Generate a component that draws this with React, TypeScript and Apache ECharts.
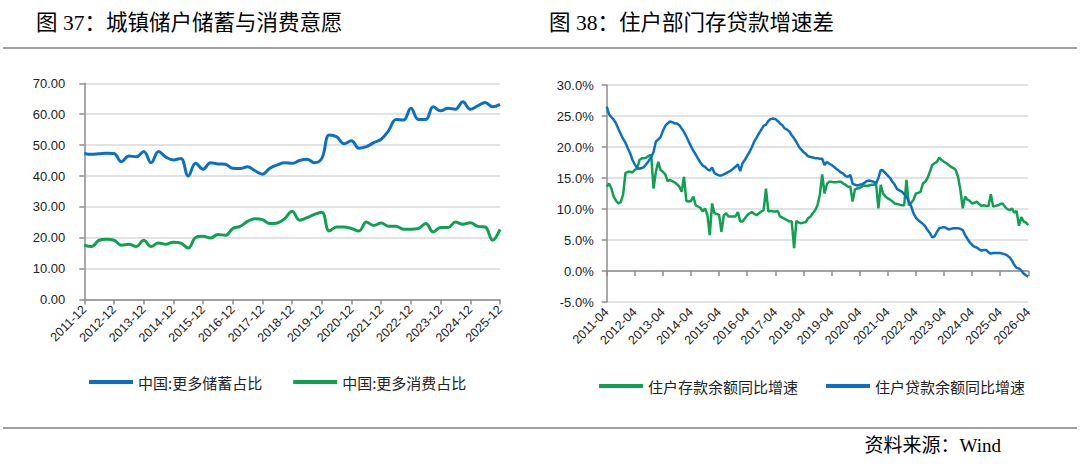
import React, { useEffect, useRef } from "react";
import * as echarts from "echarts";

function makeLabels(y0: number, m0: number, count: number, step: number): string[] {
  const out: string[] = [];
  let y = y0;
  let m = m0;
  for (let i = 0; i < count; i++) {
    out.push(`${y}-${String(m).padStart(2, "0")}`);
    m += step;
    while (m > 12) {
      m -= 12;
      y++;
    }
  }
  return out;
}

// ---- Chart 37 (quarterly, 2011-12 .. 2025-12) ----
const leftCategories = makeLabels(2011, 12, 57, 3);
const leftSaving = [
  47.3, 47.0, 47.2, 47.4, 47.3, 44.6, 46.5, 46.2, 47.9, 44.3,
  47.9, 46.1, 45.2, 45.7, 40.0, 44.1, 42.2, 44.3, 43.9, 43.8,
  42.5, 42.4, 43.0, 41.7, 40.6, 42.5, 43.6, 44.3, 44.1, 45.0,
  45.4, 44.3, 45.7, 53.3, 52.7, 50.4, 51.4, 49.0, 49.5, 50.8,
  51.9, 54.7, 58.3, 58.1, 61.9, 58.3, 58.3, 62.4, 61.1, 61.9,
  61.6, 64.0, 61.6, 62.7, 63.8, 62.4, 63.2,
];
const leftConsume = [
  17.6, 17.2, 19.2, 19.5, 19.2, 17.6, 17.9, 17.2, 19.2, 17.2,
  18.3, 17.9, 18.6, 18.3, 16.7, 20.1, 20.5, 19.9, 21.1, 20.8,
  23.0, 23.7, 25.3, 26.2, 25.9, 24.6, 24.8, 26.2, 28.6, 25.7,
  26.5, 27.6, 28.3, 22.2, 23.5, 23.5, 23.0, 22.2, 25.1, 24.0,
  24.8, 23.7, 23.7, 22.8, 22.8, 23.0, 24.6, 21.9, 23.3, 23.3,
  25.1, 24.4, 24.9, 23.7, 23.5, 19.2, 22.7,
];
const leftYTicks = { min: 0, max: 70, interval: 10 };

// ---- Chart 38 (monthly, 2011-04 .. 2026-04) ----
const rightCategories = makeLabels(2011, 4, 181, 1);
const depositGrowth = [
  13.6, 14.1, 13.3, 12.0, 11.3, 10.9, 11.1, 12.3, 15.8, 16.0,
  16.0, 15.9, 16.3, 16.5, 17.9, 18.2, 18.2, 18.3, 18.6, 18.7,
  13.3, 16.0, 17.6, 16.3, 16.0, 15.6, 14.5, 14.7, 14.5, 14.3,
  14.0, 13.6, 12.8, 15.2, 11.3, 11.2, 11.3, 12.0, 10.6, 10.4,
  10.2, 9.6, 10.1, 9.0, 5.8, 10.9, 9.3, 9.2, 9.0, 6.3,
  9.0, 9.3, 8.8, 8.8, 8.8, 8.8, 9.5, 8.0, 8.0, 8.5,
  9.0, 9.3, 9.5, 9.2, 9.0, 9.3, 9.6, 9.8, 13.3, 9.6,
  9.7, 9.6, 9.6, 9.7, 8.8, 8.6, 8.4, 8.2, 8.0, 8.0,
  3.7, 8.1, 7.8, 7.7, 7.8, 7.9, 8.5, 8.8, 9.3, 9.8,
  10.6, 12.3, 15.6, 12.5, 14.0, 14.4, 14.4, 14.3, 14.3, 14.4,
  14.4, 14.1, 13.9, 13.6, 13.6, 11.2, 13.2, 13.3, 13.4, 13.6,
  13.8, 13.7, 13.8, 13.9, 13.9, 14.1, 10.1, 13.9, 12.5, 12.0,
  11.7, 11.5, 11.2, 10.9, 10.8, 10.7, 10.6, 10.6, 14.7, 10.6,
  11.0, 11.5, 12.5, 12.6, 12.8, 14.1, 14.4, 15.0, 16.0, 17.1,
  17.4, 17.6, 18.3, 17.9, 17.6, 17.4, 17.1, 16.8, 16.6, 16.3,
  15.2, 13.1, 10.1, 12.0, 11.5, 11.3, 10.9, 11.0, 11.2, 10.8,
  10.5, 10.6, 10.5, 10.5, 12.4, 10.4, 10.5, 10.6, 10.8, 10.9,
  10.4, 10.0, 9.8, 10.1, 9.4, 9.7, 7.3, 8.7, 8.0, 7.8, 7.4,
];
const loanGrowth = [
  26.5, 25.3, 24.8, 24.4, 23.8, 22.9, 22.1, 21.3, 20.7, 19.8,
  19.0, 17.9, 17.2, 16.6, 16.5, 16.6, 16.8, 17.3, 17.8, 18.4,
  19.2, 20.9, 21.2, 21.6, 22.6, 23.4, 23.8, 24.1, 24.0, 23.8,
  23.8, 23.5, 23.0, 22.4, 21.7, 20.9, 20.1, 19.4, 18.8, 18.1,
  17.5, 17.0, 16.8, 16.4, 16.2, 16.7, 15.8, 15.6, 15.4, 15.4,
  15.6, 15.8, 16.0, 16.2, 16.5, 16.8, 17.2, 16.1, 17.4, 17.9,
  18.6, 19.2, 20.0, 20.9, 21.5, 22.2, 22.8, 23.4, 23.6, 24.2,
  24.5, 24.6, 24.5, 24.2, 23.8, 23.5, 23.0, 22.8, 22.5, 21.9,
  21.4, 20.8, 20.1, 19.6, 19.2, 18.9, 18.5, 18.4, 18.3, 18.2,
  18.2, 18.1, 18.1, 17.1, 17.6, 17.3, 17.1, 16.8, 16.5, 16.2,
  15.9, 15.7, 15.3, 15.2, 15.5, 14.1, 13.9, 13.8, 13.9, 14.0,
  14.2, 14.5, 14.6, 14.5, 14.4, 14.1, 15.0, 16.3, 16.2, 15.8,
  15.4, 15.0, 14.4, 13.9, 13.2, 13.0, 12.8, 12.4, 12.0, 11.2,
  10.4, 9.3, 8.6, 8.2, 7.9, 7.6, 7.2, 6.6, 6.1, 5.4,
  5.6, 6.3, 6.9, 7.0, 7.1, 6.9, 6.7, 6.8, 6.9, 6.9,
  6.9, 6.8, 6.6, 5.8, 5.2, 4.6, 4.2, 3.9, 3.8, 3.5,
  3.3, 3.4, 3.4, 3.0, 2.8, 2.9, 2.9, 2.9, 2.9, 2.8,
  2.7, 2.5, 2.2, 1.7, 1.0, 0.5, 0.4, 0.1, -0.4, -0.7, -0.9,
];
const rightYTicks = { min: -5, max: 30, interval: 5 };

const leftNames = ["中国:更多储蓄占比", "中国:更多消费占比"];
const rightNames = ["住户存款余额同比增速", "住户贷款余额同比增速"];
const titleLeft = "图 37：城镇储户储蓄与消费意愿";
const titleRight = "图 38：住户部门存贷款增速差";
const sourceText = "资料来源：Wind";

const BLUE = "#0b6fc6";
const GREEN = "#10a052";
const AXIS = "#8c8c8c";
const GRIDC = "#d9d9d9";
const LABEL = "#222";

export default function App() {
  const ref = useRef<HTMLDivElement>(null);
  useEffect(() => {
    if (!ref.current) return;
    const chart = echarts.init(ref.current, undefined, { renderer: "svg" });
    const labelFont = "Liberation Sans, Arial, sans-serif";
    const cjkFont = '"Noto Sans CJK SC", sans-serif';
    const titleFont = '"Liberation Serif", "Noto Sans CJK SC", serif';
    const axisLine = { show: true, lineStyle: { color: AXIS, width: 1.5 } };
    const axisTick = { show: true, length: 5, lineStyle: { color: AXIS, width: 1.5 } };
    const splitLine = { show: true, lineStyle: { color: GRIDC, width: 1.5 } };

    chart.setOption({
      animation: false,
      backgroundColor: "#ffffff",
      grid: [
        { left: 84.3, top: 83.3, width: 415.7, height: 216.3 },
        { left: 606.7, top: 85, width: 421.6, height: 217 },
      ],
      xAxis: [
        {
          gridIndex: 0,
          type: "category",
          data: leftCategories,
          boundaryGap: false,
          axisLine,
          axisTick: { ...axisTick, interval: 3 },
          axisLabel: { interval: 3, rotate: 45, margin: 8, fontSize: 12.5, color: LABEL, fontFamily: labelFont },
          splitLine: { show: false },
        },
        {
          gridIndex: 1,
          type: "category",
          data: rightCategories,
          boundaryGap: false,
          position: "bottom",
          axisLine: { ...axisLine, onZero: true },
          axisTick: { ...axisTick, interval: 11 },
          axisLabel: { show: false },
          splitLine: { show: false },
        },
        {
          gridIndex: 1,
          type: "category",
          data: rightCategories,
          boundaryGap: false,
          position: "bottom",
          axisLine: { show: false, onZero: false },
          axisTick: { show: false },
          axisLabel: { interval: 11, rotate: 45, margin: 8, fontSize: 12.5, color: LABEL, fontFamily: labelFont },
          splitLine: { show: false },
        },
      ],
      yAxis: [
        {
          gridIndex: 0,
          type: "value",
          ...leftYTicks,
          axisLine,
          axisTick,
          axisLabel: {
            margin: 19,
            fontSize: 13,
            color: LABEL,
            fontFamily: labelFont,
            formatter: (v: number) => v.toFixed(2),
          },
          splitLine,
        },
        {
          gridIndex: 1,
          type: "value",
          ...rightYTicks,
          axisLine,
          axisTick,
          axisLabel: {
            margin: 13,
            fontSize: 13,
            color: LABEL,
            fontFamily: labelFont,
            formatter: (v: number) => v.toFixed(1) + "%",
          },
          splitLine,
        },
      ],
      legend: [
        {
          data: leftNames,
          left: 84,
          top: 369.5,
          icon: "rect",
          itemWidth: 44,
          itemHeight: 4,
          itemGap: 31,
          textStyle: { fontSize: 15, color: LABEL, fontFamily: cjkFont },
        },
        {
          data: rightNames,
          left: 594,
          top: 373.5,
          icon: "rect",
          itemWidth: 44,
          itemHeight: 4,
          itemGap: 28,
          textStyle: { fontSize: 15, color: LABEL, fontFamily: cjkFont },
        },
      ],
      series: [
        {
          name: leftNames[0],
          type: "line",
          xAxisIndex: 0,
          yAxisIndex: 0,
          data: leftSaving,
          smooth: 0.4,
          showSymbol: false,
          color: BLUE,
          lineStyle: { color: BLUE, width: 3 },
        },
        {
          name: leftNames[1],
          type: "line",
          xAxisIndex: 0,
          yAxisIndex: 0,
          data: leftConsume,
          smooth: 0.4,
          showSymbol: false,
          color: GREEN,
          lineStyle: { color: GREEN, width: 3 },
        },
        {
          name: rightNames[0],
          type: "line",
          xAxisIndex: 1,
          yAxisIndex: 1,
          data: depositGrowth,
          showSymbol: false,
          color: GREEN,
          lineStyle: { color: GREEN, width: 2.5 },
        },
        {
          name: rightNames[1],
          type: "line",
          xAxisIndex: 1,
          yAxisIndex: 1,
          data: loanGrowth,
          showSymbol: false,
          color: BLUE,
          lineStyle: { color: BLUE, width: 2.5 },
        },
      ],
      graphic: [
        {
          type: "text",
          x: 36,
          y: 23,
          style: { text: titleLeft, font: `21.5px ${titleFont}`, fill: "#000", align: "left", verticalAlign: "middle" },
        },
        {
          type: "text",
          x: 549,
          y: 23,
          style: { text: titleRight, font: `21.5px ${titleFont}`, fill: "#000", align: "left", verticalAlign: "middle" },
        },
        {
          type: "line",
          shape: { x1: 3, y1: 48, x2: 1077, y2: 48 },
          style: { stroke: "#808080", lineWidth: 1.5 },
        },
        {
          type: "line",
          shape: { x1: 3, y1: 428, x2: 1077, y2: 428 },
          style: { stroke: "#808080", lineWidth: 1.5 },
        },
        {
          type: "text",
          x: 1001,
          y: 445,
          style: { text: sourceText, font: `19px ${titleFont}`, fill: "#000", align: "right", verticalAlign: "middle" },
        },
      ],
    });
    return () => chart.dispose();
  }, []);

  return (
    <div
      ref={ref}
      style={{ position: "absolute", left: 0, top: 0, width: 1080, height: 467, background: "#fff" }}
    />
  );
}
